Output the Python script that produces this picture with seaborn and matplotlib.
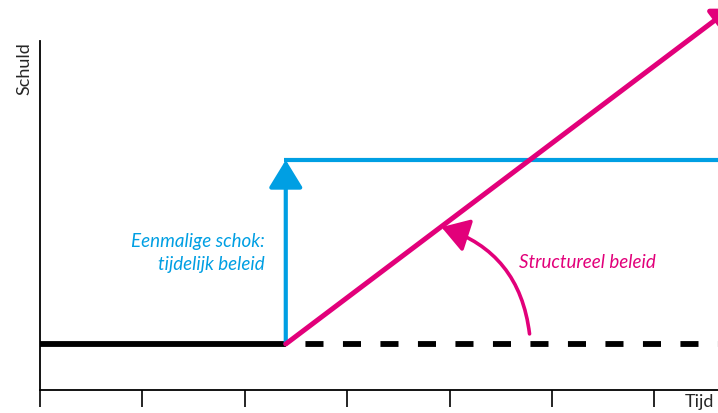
import matplotlib
matplotlib.use("Agg")
import matplotlib.pyplot as plt
import seaborn as sns
import numpy as np

# Schematic values (time units on x, debt level on y)
time_ticks = [0, 1, 2, 3, 4, 5, 6]
x_end = 6.62
shock_time = 2.4
base_level = 1.0
shock_level = 5.0
structural_slope = 1.68
structural_tip = 6.74
yaxis_top = 7.59

annot_start = (4.78, 1.22)
annot_tip = (3.92, 3.54)

blue = "#009FE3"
pink = "#E2007A"

sns.set_style("white")
plt.rcParams["font.family"] = ["Lato", "DejaVu Sans"]
plt.rcParams["lines.scale_dashes"] = False

fig = plt.figure(figsize=(7.18, 4.14), dpi=100)
ax = fig.add_axes([0, 0, 1, 1])
ax.set_xlim(-0.39, x_end)
ax.set_ylim(-0.5, 8.5)

# axes as spines through the origin
for s in ["top", "right"]:
    ax.spines[s].set_visible(False)
ax.spines["left"].set_position(("data", 0))
ax.spines["bottom"].set_position(("data", 0))
ax.spines["left"].set_bounds(0, yaxis_top)
ax.spines["bottom"].set_bounds(0, x_end)
for s in ["left", "bottom"]:
    ax.spines[s].set_color("black")
    ax.spines[s].set_linewidth(1.3)
ax.set_xticks(time_ticks)
ax.set_xticklabels([])
ax.set_yticks([])
ax.tick_params(axis="x", direction="out", length=12.5, width=1.2, color="black", bottom=True)

# baseline: solid until the shock, dashed afterwards
sns.lineplot(x=[0, shock_time], y=[base_level, base_level], color="black", lw=4.2, ax=ax,
             solid_capstyle="butt")
ax.plot([shock_time, x_end], [base_level, base_level], color="black", lw=4.2,
        linestyle=(13, (13, 14)), dash_capstyle="butt")

# temporary shock (blue)
ax.plot([shock_time - 0.02, x_end], [shock_level, shock_level], color=blue, lw=3, solid_capstyle="butt")
ax.annotate("", xy=(shock_time, shock_level), xytext=(shock_time, base_level),
            arrowprops=dict(arrowstyle="-|>,head_length=17,head_width=10.4", color=blue, lw=3,
                            shrinkA=0, shrinkB=0, mutation_scale=1))

# structural policy (pink)
tip_y = base_level + structural_slope * (structural_tip - shock_time)
ax.annotate("", xy=(structural_tip, tip_y), xytext=(shock_time, base_level),
            arrowprops=dict(arrowstyle="-|>,head_length=10,head_width=7.5", color=pink, lw=3.6,
                            shrinkA=0, shrinkB=0, mutation_scale=1), annotation_clip=False)
ax.annotate("", xy=annot_tip, xytext=annot_start,
            arrowprops=dict(arrowstyle="-|>,head_length=16.5,head_width=10.4", color=pink, lw=2.6,
                            shrinkA=0, shrinkB=0, mutation_scale=1,
                            connectionstyle="arc3,rad=0.32"))

ax.text(2.195, 3.0, "Eenmalige schok:\ntijdelijk beleid", color=blue, fontsize=13.5,
        style="italic", ha="right", va="center", multialignment="right", linespacing=1.45)
ax.text(4.68, 2.8, "Structureel beleid", color=pink, fontsize=13.5, style="italic",
        ha="left", va="center")

ax.text(-0.15, yaxis_top, "Schuld", rotation=90, ha="center", va="top", fontsize=13)
ax.text(6.3, -0.25, "Tijd", ha="left", va="center", fontsize=13)

fig.savefig("out.png", dpi=100)
